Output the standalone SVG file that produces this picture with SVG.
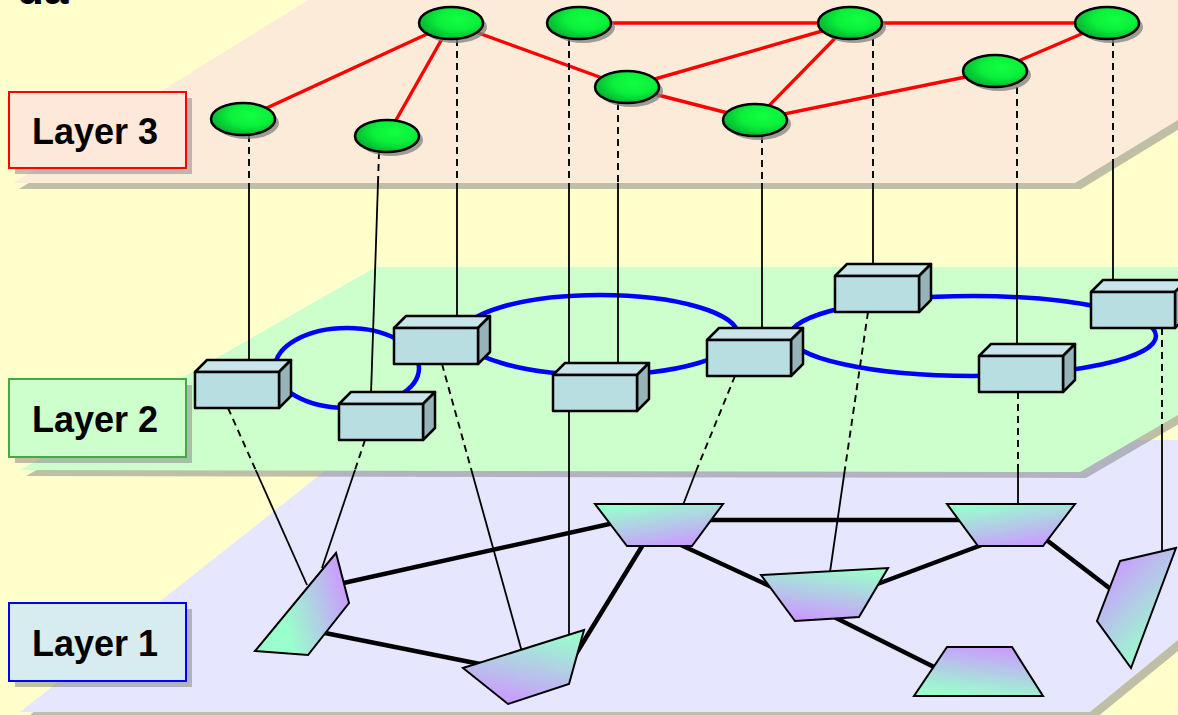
<svg xmlns="http://www.w3.org/2000/svg" xmlns:xlink="http://www.w3.org/1999/xlink" width="1178" height="715" viewBox="0 0 1178 715">
<style>
.lbl{font-family:"Liberation Sans",Arial,sans-serif;font-weight:bold;font-size:36px;fill:#000}
.shd{fill:#808080;opacity:0.5}
.red{stroke:#FF0000;stroke-width:3.4;fill:none}
.ring{stroke:#0000FF;stroke-width:4.5;fill:none}
.dash{stroke:#000;stroke-width:1.9;stroke-dasharray:7,5;fill:none}
.sol{stroke:#000;stroke-width:1.8;fill:none}
.thick{stroke:#000;stroke-width:4.5;fill:none}
.sh1{stroke:#000;stroke-width:2}
.bx{stroke:#000;stroke-width:2.5;stroke-linejoin:round}
</style>
<defs>
<radialGradient id="gn" cx="0.62" cy="0.38" r="0.75">
<stop offset="0" stop-color="#11FF40"/>
<stop offset="0.45" stop-color="#0AF03A"/>
<stop offset="1" stop-color="#00A030"/>
</radialGradient>
<g id="node3">
<ellipse cx="4" cy="4" rx="32" ry="16" fill="#808080" opacity="0.75"/>
<ellipse cx="0" cy="0" rx="32" ry="16" fill="url(#gn)" stroke="#000" stroke-width="2.5"/>
</g>
<g id="box">
<polygon class="bx" points="0,12 12,0 96,0 84,12" fill="#C8E6EA"/>
<polygon class="bx" points="84,12 96,0 96,36 84,48" fill="#96B4B8"/>
<rect class="bx" x="0" y="12" width="84" height="36" fill="#B9DEE2"/>
</g>
<linearGradient id="g1" x1="0.3" y1="0.6" x2="1" y2="0.4"><stop offset="0" stop-color="#99FFCC"/><stop offset="1" stop-color="#CC99FF"/></linearGradient>
<linearGradient id="g2" x1="0.75" y1="0" x2="0.4" y2="1"><stop offset="0" stop-color="#99FFCC"/><stop offset="1" stop-color="#CC99FF"/></linearGradient>
<linearGradient id="g3" x1="0.25" y1="0" x2="0.7" y2="1"><stop offset="0" stop-color="#99FFCC"/><stop offset="1" stop-color="#CC99FF"/></linearGradient>
<linearGradient id="g6" x1="0.2" y1="0.1" x2="0.7" y2="0.85"><stop offset="0" stop-color="#CC99FF"/><stop offset="1" stop-color="#99FFCC"/></linearGradient>
<linearGradient id="g7" x1="0.7" y1="0" x2="0.4" y2="1"><stop offset="0" stop-color="#CC99FF"/><stop offset="1" stop-color="#99FFCC"/></linearGradient>
</defs>

<rect x="0" y="0" width="1178" height="715" fill="#FFFFCC"/>
<text x="17" y="4" class="lbl" style="font-size:44px">da</text>

<g id="planes">
<polygon class="shd" points="370,446 1184,446 1184,646 1096,718 26,718"/>
<polygon fill="#E6E6FF" points="364,440 1178,440 1178,640 1090,712 20,712"/>
<polygon class="shd" points="382,273 1184,273 1184,421 1086,478 26,476"/>
<polygon fill="#CCFFCC" points="376,267 1178,267 1178,415 1080,472 20,470"/>
<polygon class="shd" points="314,6 1184,6 1184,126 1081,189 19,189"/>
<polygon fill="#FDEBD9" points="308,0 1178,0 1178,120 1075,183 13,183"/>
</g>

<g id="label-layer3">
<rect class="shd" x="15" y="98" width="177" height="76"/>
<rect x="9" y="92" width="177" height="76" fill="#FDE8DA" stroke="#FF0000" stroke-width="2"/>
<text x="32" y="144" class="lbl">Layer 3</text>
</g>
<g id="label-layer2">
<rect class="shd" x="15" y="385" width="177" height="78"/>
<rect x="9" y="379" width="177" height="78" fill="#CCFFCC" stroke="#44AA44" stroke-width="2"/>
<text x="32" y="432" class="lbl">Layer 2</text>
</g>
<g id="label-layer1">
<rect class="shd" x="15" y="609" width="177" height="78"/>
<rect x="9" y="603" width="177" height="78" fill="#D6ECF0" stroke="#0000FF" stroke-width="2"/>
<text x="32" y="656" class="lbl">Layer 1</text>
</g>

<g id="connectors">
<ellipse class="ring" cx="347" cy="368" rx="72" ry="40"/>
<ellipse class="ring" cx="600" cy="335" rx="138" ry="40"/>
<ellipse class="ring" cx="973" cy="336" rx="183" ry="40"/>
<line class="red" x1="243" y1="119" x2="451" y2="23"/>
<line class="red" x1="387" y1="136" x2="451" y2="23"/>
<line class="red" x1="451" y1="23" x2="627" y2="87"/>
<line class="red" x1="579" y1="23" x2="850" y2="23"/>
<line class="red" x1="627" y1="87" x2="850" y2="23"/>
<line class="red" x1="627" y1="87" x2="755" y2="120"/>
<line class="red" x1="755" y1="120" x2="850" y2="23"/>
<line class="red" x1="755" y1="120" x2="995" y2="71"/>
<line class="red" x1="995" y1="71" x2="1107" y2="23"/>
<line class="red" x1="850" y1="23" x2="1107" y2="23"/>
<line class="dash" x1="249" y1="135" x2="249" y2="183"/>
<line class="sol" x1="249" y1="183" x2="249" y2="362"/>
<line class="dash" x1="379" y1="152" x2="378" y2="183"/>
<line class="sol" x1="378" y1="183" x2="371" y2="394"/>
<line class="dash" x1="457" y1="39" x2="457" y2="183"/>
<line class="sol" x1="457" y1="183" x2="457" y2="318"/>
<line class="dash" x1="569" y1="39" x2="569" y2="183"/>
<line class="sol" x1="569" y1="183" x2="569" y2="634"/>
<line class="dash" x1="618" y1="103" x2="618" y2="183"/>
<line class="sol" x1="618" y1="183" x2="618" y2="365"/>
<line class="dash" x1="762" y1="136" x2="762" y2="183"/>
<line class="sol" x1="762" y1="183" x2="762" y2="330"/>
<line class="dash" x1="873" y1="39" x2="873" y2="183"/>
<line class="sol" x1="873" y1="183" x2="873" y2="266"/>
<line class="dash" x1="1017" y1="87" x2="1017" y2="183"/>
<line class="sol" x1="1017" y1="183" x2="1017" y2="346"/>
<line class="dash" x1="1113" y1="39" x2="1113" y2="160"/>
<line class="sol" x1="1113" y1="160" x2="1113" y2="282"/>
<line class="dash" x1="228" y1="408" x2="255.7" y2="470"/>
<line class="sol" x1="255.7" y1="470" x2="307" y2="585"/>
<line class="dash" x1="365" y1="440" x2="355" y2="470"/>
<line class="sol" x1="355" y1="470" x2="322" y2="568"/>
<line class="dash" x1="442" y1="364" x2="471.4" y2="470"/>
<line class="sol" x1="471.4" y1="470" x2="522" y2="652"/>
<line class="dash" x1="735" y1="376" x2="696.5" y2="470"/>
<line class="sol" x1="696.5" y1="470" x2="683" y2="505"/>
<line class="dash" x1="868" y1="312" x2="844.8" y2="470"/>
<line class="sol" x1="844.8" y1="470" x2="830" y2="572"/>
<line class="dash" x1="1018" y1="392" x2="1018" y2="470"/>
<line class="sol" x1="1018" y1="470" x2="1018" y2="507"/>
<line class="dash" x1="1162" y1="328" x2="1162" y2="424"/>
<line class="sol" x1="1162" y1="424" x2="1162" y2="552"/>
<line class="thick" x1="330" y1="586" x2="650" y2="515"/>
<line class="thick" x1="300" y1="628" x2="500" y2="668"/>
<line class="thick" x1="560" y1="680" x2="652" y2="530"/>
<line class="thick" x1="680" y1="520" x2="1000" y2="520"/>
<line class="thick" x1="670" y1="540" x2="800" y2="600"/>
<line class="thick" x1="840" y1="598" x2="995" y2="540"/>
<line class="thick" x1="830" y1="615" x2="960" y2="680"/>
<line class="thick" x1="1040" y1="535" x2="1125" y2="600"/>
</g>

<g id="layer3-nodes">
<use id="n3a" xlink:href="#node3" x="243" y="119"/>
<use id="n3b" xlink:href="#node3" x="387" y="136"/>
<use id="n3c" xlink:href="#node3" x="451" y="23"/>
<use id="n3d" xlink:href="#node3" x="579" y="23"/>
<use id="n3e" xlink:href="#node3" x="627" y="87"/>
<use id="n3f" xlink:href="#node3" x="755" y="120"/>
<use id="n3g" xlink:href="#node3" x="850" y="23"/>
<use id="n3h" xlink:href="#node3" x="995" y="71"/>
<use id="n3i" xlink:href="#node3" x="1107" y="23"/>
</g>

<g id="layer2-nodes">
<use id="n2a" xlink:href="#box" x="195" y="360"/>
<use id="n2b" xlink:href="#box" x="339" y="392"/>
<use id="n2c" xlink:href="#box" x="394" y="316"/>
<use id="n2d" xlink:href="#box" x="553" y="363"/>
<use id="n2e" xlink:href="#box" x="707" y="328"/>
<use id="n2f" xlink:href="#box" x="835" y="264"/>
<use id="n2g" xlink:href="#box" x="979" y="344"/>
<use id="n2h" xlink:href="#box" x="1091" y="280"/>
</g>

<g id="layer1-nodes">
<polygon id="n1a" class="sh1" fill="url(#g1)" points="255,651 308,655 349,603 336,553"/>
<polygon id="n1b" class="sh1" fill="url(#g2)" points="463,668 508,704 569,684 584,630"/>
<polygon id="n1c" class="sh1" fill="url(#g3)" points="595,504 723,504 692,546 627,546"/>
<polygon id="n1d" class="sh1" fill="url(#g2)" points="761,575 888,568 859,617 795,621"/>
<polygon id="n1e" class="sh1" fill="url(#g3)" points="947,504 1075,504 1043,546 978,546"/>
<polygon id="n1f" class="sh1" fill="url(#g6)" points="1120,561 1176,548 1131,668 1097,621"/>
<polygon id="n1g" class="sh1" fill="url(#g7)" points="947,647 1012,647 1043,696 914,696"/>
</g>
</svg>
